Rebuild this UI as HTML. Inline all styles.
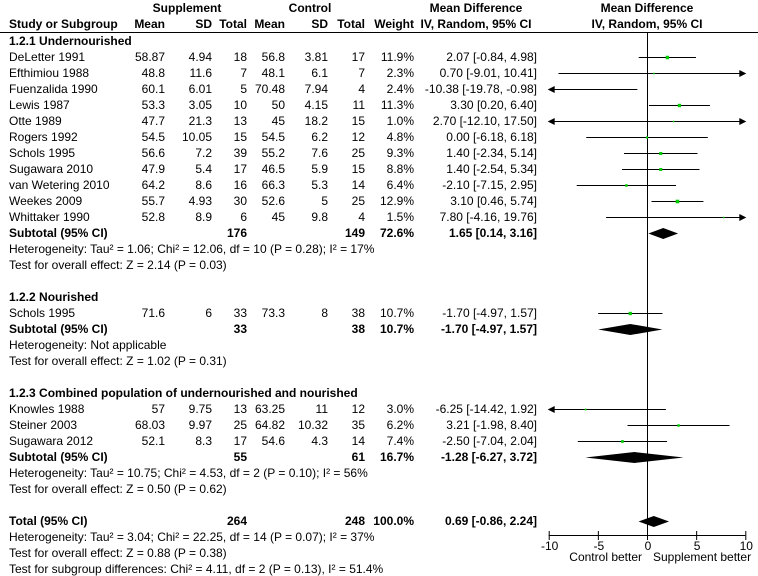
<!DOCTYPE html>
<html><head><meta charset="utf-8"><style>
body{margin:0;background:#fff}
svg{display:block;font-family:"Liberation Sans",Arial,sans-serif;font-size:12px}
</style></head><body>
<svg id="plot" width="758" height="576" viewBox="0 0 758 576" xmlns="http://www.w3.org/2000/svg"></svg>
<script>
// type: h=group header, s=study, t=subtotal, x=text line, T=total
const rowTypes=["h","s","s","s","s","s","s","s","s","s","s","s","t","x","x","b","h","s","t","x","x","b","h","s","s","s","t","x","x","b","T","x","x","x"];
const rowNames=["1.2.1 Undernourished","DeLetter 1991","Efthimiou 1988","Fuenzalida 1990","Lewis 1987","Otte 1989","Rogers 1992","Schols 1995","Sugawara 2010","van Wetering 2010","Weekes 2009","Whittaker 1990","Subtotal (95% CI)",
"Heterogeneity: Tau² = 1.06; Chi² = 12.06, df = 10 (P = 0.28); I² = 17%","Test for overall effect: Z = 2.14 (P = 0.03)","",
"1.2.2 Nourished","Schols 1995","Subtotal (95% CI)","Heterogeneity: Not applicable","Test for overall effect: Z = 1.02 (P = 0.31)","",
"1.2.3 Combined population of undernourished and nourished","Knowles 1988","Steiner 2003","Sugawara 2012","Subtotal (95% CI)",
"Heterogeneity: Tau² = 10.75; Chi² = 4.53, df = 2 (P = 0.10); I² = 56%","Test for overall effect: Z = 0.50 (P = 0.62)","",
"Total (95% CI)","Heterogeneity: Tau² = 3.04; Chi² = 22.25, df = 14 (P = 0.07); I² = 37%","Test for overall effect: Z = 0.88 (P = 0.38)","Test for subgroup differences: Chi² = 4.11, df = 2 (P = 0.13), I² = 51.4%"];
const supMean=["","58.87","48.8","60.1","53.3","47.7","54.5","56.6","47.9","64.2","55.7","52.8","","","","","","71.6","","","","","","57","68.03","52.1","","","","","","","",""];
const supSD=["","4.94","11.6","6.01","3.05","21.3","10.05","7.2","5.4","8.6","4.93","8.9","","","","","","6","","","","","","9.75","9.97","8.3","","","","","","","",""];
const supN=["","18","7","5","10","13","15","39","17","16","30","6","176","","","","","33","33","","","","","13","25","17","55","","","","264","","",""];
const conMean=["","56.8","48.1","70.48","50","45","54.5","55.2","46.5","66.3","52.6","45","","","","","","73.3","","","","","","63.25","64.82","54.6","","","","","","","",""];
const conSD=["","3.81","6.1","7.94","4.15","18.2","6.2","7.6","5.9","5.3","5","9.8","","","","","","8","","","","","","11","10.32","4.3","","","","","","","",""];
const conN=["","17","7","4","11","15","12","25","15","14","25","4","149","","","","","38","38","","","","","12","35","14","61","","","","248","","",""];
const weights=[null,11.9,2.3,2.4,11.3,1.0,4.8,9.3,8.8,6.4,12.9,1.5,72.6,null,null,null,null,10.7,10.7,null,null,null,null,3.0,6.2,7.4,16.7,null,null,null,100.0,null,null,null];
const md=[null,2.07,0.70,-10.38,3.30,2.70,0.00,1.40,1.40,-2.10,3.10,7.80,1.65,null,null,null,null,-1.70,-1.70,null,null,null,null,-6.25,3.21,-2.50,-1.28,null,null,null,0.69,null,null,null];
const lo=[null,-0.84,-9.01,-19.78,0.20,-12.10,-6.18,-2.34,-2.54,-7.15,0.46,-4.16,0.14,null,null,null,null,-4.97,-4.97,null,null,null,null,-14.42,-1.98,-7.04,-6.27,null,null,null,-0.86,null,null,null];
const hi=[null,4.98,10.41,-0.98,6.40,17.50,6.18,5.14,5.34,2.95,5.74,19.76,3.16,null,null,null,null,1.57,1.57,null,null,null,null,1.92,8.40,2.04,3.72,null,null,null,2.24,null,null,null];
const axisTicks=[-10,-5,0,5,10];

const svg=document.getElementById('plot');
const NS="http://www.w3.org/2000/svg";
const X0=647, PX=9.83, XMIN=-10, XMAX=10;
const xs=v=>X0+v*PX;
const ry=i=>41+i*16;
function el(tag,attrs,parent){const e=document.createElementNS(NS,tag);for(const k in attrs)e.setAttribute(k,attrs[k]);(parent||svg).appendChild(e);return e;}
function txt(s,x,y,anchor,bold,name){const t=el('text',{x:x,y:y+4,'text-anchor':anchor||'start'});if(bold)t.setAttribute('font-weight','bold');t.textContent=s;


return t;}

txt("Supplement",187,8,'middle',true,'supplement-header');
txt("Control",310,8,'middle',true,'control-header');
txt("Mean Difference",476,8,'middle',true,'md-header');
txt("Mean Difference",647,8,'middle',true,'md-plot-header');
txt("Study or Subgroup",9,24,'start',true,'study-header');
txt("Mean",165,24,'end',true,'sup-mean-header');
txt("SD",212,24,'end',true,'sup-sd-header');
txt("Total",247,24,'end',true,'sup-total-header');
txt("Mean",285,24,'end',true,'con-mean-header');
txt("SD",328,24,'end',true,'con-sd-header');
txt("Total",365,24,'end',true,'con-total-header');
txt("Weight",414,24,'end',true,'weight-header');
txt("IV, Random, 95% CI",476,24,'middle',true,'md-method-header');
txt("IV, Random, 95% CI",647,24,'middle',true,'md-plot-method-header');
const hl=el('line',{x1:0,x2:758,y1:32.5,y2:32.5,stroke:'#000'});



const zl=el('line',{x1:X0+0.5,x2:X0+0.5,y1:32,y2:535,stroke:'#000'});



rowTypes.forEach((tp,i)=>{
  const y=ry(i);
  const bold=(tp==='h'||tp==='t'||tp==='T');
  if(rowNames[i])txt(rowNames[i],9,y,'start',bold,tp==='s'?'study-name':'row-label');
  txt(supMean[i],165,y,'end',false,'sup-mean');
  txt(supSD[i],212,y,'end',false,'sup-sd');
  txt(supN[i],247,y,'end',bold,'sup-total');
  txt(conMean[i],285,y,'end',false,'con-mean');
  txt(conSD[i],328,y,'end',false,'con-sd');
  txt(conN[i],365,y,'end',bold,'con-total');
  if(weights[i]!==null)txt(weights[i].toFixed(1)+'%',414,y,'end',bold,'weight');
  if(md[i]!==null){
    txt(md[i].toFixed(2)+' ['+lo[i].toFixed(2)+', '+hi[i].toFixed(2)+']',537,y,'end',bold,'md-ci');
    if(tp==='s'){
      const a=Math.max(lo[i],XMIN), b=Math.min(hi[i],XMAX);
      const ln=el('line',{x1:xs(a),x2:xs(b),y1:y+0.5,y2:y+0.5,stroke:'#000'});
      
      
      if(lo[i]<XMIN){const p=el('polygon',{points:`${xs(XMIN)-1},${y+0.5} ${xs(XMIN)+6},${y-3} ${xs(XMIN)+6},${y+4}`,fill:'#000'});
        
        }
      if(hi[i]>XMAX){const p=el('polygon',{points:`${xs(XMAX)+1},${y+0.5} ${xs(XMAX)-6},${y-3} ${xs(XMAX)-6},${y+4}`,fill:'#000'});
        
        }
      if(md[i]>=XMIN && md[i]<=XMAX){
        const sz=Math.max(1.5,Math.sqrt(weights[i])*1.0);
        const sq=el('rect',{x:xs(md[i])-sz/2,y:y+0.5-sz/2,width:sz,height:sz,fill:'#00cc00'});
        
        
      }
    } else {
      const d=el('polygon',{points:`${xs(lo[i])},${y+0.5} ${xs(md[i])},${y-5} ${xs(hi[i])},${y+0.5} ${xs(md[i])},${y+6}`,fill:'#000'});
      
      
    }
  }
});

const ax=el('line',{x1:xs(XMIN),x2:xs(XMAX),y1:535.5,y2:535.5,stroke:'#000'});


axisTicks.forEach(t=>{
  const tk=el('line',{x1:xs(t)+0.5,x2:xs(t)+0.5,y1:531,y2:540,stroke:'#000'});
  
  
  txt(String(t),xs(t)+1,546,'middle',false,'x-tick-label');
});
txt("Control better",642,557,'end',false,'control-better-label');
txt("Supplement better",653,557,'start',false,'supplement-better-label');
</script>
</body></html>
